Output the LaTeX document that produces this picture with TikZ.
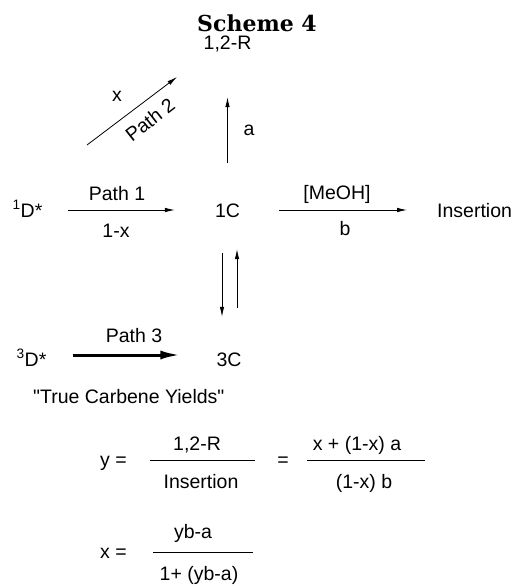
\documentclass[tikz,border=0pt]{standalone}
\usepackage{fontspec}
\setmainfont{Liberation Sans}[Ligatures=TeXOff]
\newfontfamily\titlefont{DejaVu Serif}
\usetikzlibrary{arrows.meta}

\begin{document}
\begin{tikzpicture}[x=1pt, y=-1pt,
    lbl/.style={inner sep=0pt, font=\fontsize{19.5}{23}\selectfont},
    spc/.style={lbl, text height=14pt, text depth=0pt},
    line/.style={draw, -{Latex[length=10pt,width=4.5pt]}, line width=0.8pt},
    thickline/.style={draw, -{Latex[length=20pt,width=9pt]}, line width=3pt}
]
    \useasboundingbox (0,0) rectangle (514,586);

    \node [lbl, anchor=base, font=\titlefont\bfseries\fontsize{22}{26}\selectfont] (title) at (257,32) {Scheme 4};

    % species
    \node [spc] (R12) at (227.5,42) {1,2-R};
    \node [spc] (D1) at (27.5,210) {\textsuperscript{1}D*};
    \node [spc] (C1) at (227.5,210) {1C};
    \node [spc, anchor=west] (ins) at (437,210) {Insertion};
    \node [spc] (D3) at (31.5,359) {\textsuperscript{3}D*};
    \node [spc] (C3) at (229,359) {3C};

    % path 2
    \coordinate (p2s) at (87,145);
    \coordinate (p2e) at (177,77);
    \draw [line] (p2s) -- (p2e);
    \node [lbl] (x2) at (117,96) {x};
    \node [lbl, rotate=38] (path2) at (150,120) {Path 2};

    % path 1 and trapping
    \draw [line, shorten <=25pt, shorten >=40pt] (D1) -- (C1);
    \node [lbl, anchor=base] (path1) at (117,200) {Path 1};
    \node [lbl, anchor=base] (k1) at (116,237) {1-x};
    \draw [line, shorten <=40pt, shorten >=48pt] (C1) -- (R12);
    \node [lbl] (ka) at (249,130) {a};
    \draw [line, shorten <=39pt, shorten >=30pt] (C1) -- (ins);
    \node [lbl, anchor=base] (meoh) at (337,199) {[MeOH]};
    \node [lbl, anchor=base] (kb) at (345,235) {b};

    % singlet / triplet
    \draw [line, shorten <=36pt, shorten >=35pt] ([xshift=-5.5pt]C1.south) -- ([xshift=-5.5pt]C1.south |- C3.north);
    \draw [line, shorten <=44pt, shorten >=32pt] ([xshift=9.5pt]C1.south |- C3.north) -- ([xshift=9.5pt]C1.south);

    % path 3
    \draw [thickline, shorten <=26pt, shorten >=36pt] ([yshift=4pt]D3.east) -- ([yshift=4pt]C3.west);
    \node [lbl, anchor=base] (path3) at (134,342) {Path 3};

    \node [lbl, anchor=base west] (yields) at (33,403) {"True Carbene Yields"};

    % y equation
    \node [lbl, anchor=base west] (yeq) at (100,466) {y =};
    \node [lbl, anchor=base] (n1) at (197,450) {1,2-R};
    \node [lbl, anchor=base] (d1) at (201,488) {Insertion};
    \draw [line width=0.8pt] (150,460) -- (255,460);
    \node [lbl, anchor=base] (eq2) at (283,466) {=};
    \node [lbl, anchor=base] (n2) at (357,450) {x + (1-x) a};
    \node [lbl, anchor=base] (d2) at (364,488) {(1-x) b};
    \draw [line width=0.8pt] (307,460) -- (425,460);

    % x equation
    \node [lbl, anchor=base west] (xeq) at (100,558) {x =};
    \node [lbl, anchor=base] (n3) at (193,538) {yb-a};
    \node [lbl, anchor=base] (d3) at (199,580) {1+ (yb-a)};
    \draw [line width=0.8pt] (153,552) -- (253,552);
\end{tikzpicture}
\end{document}
